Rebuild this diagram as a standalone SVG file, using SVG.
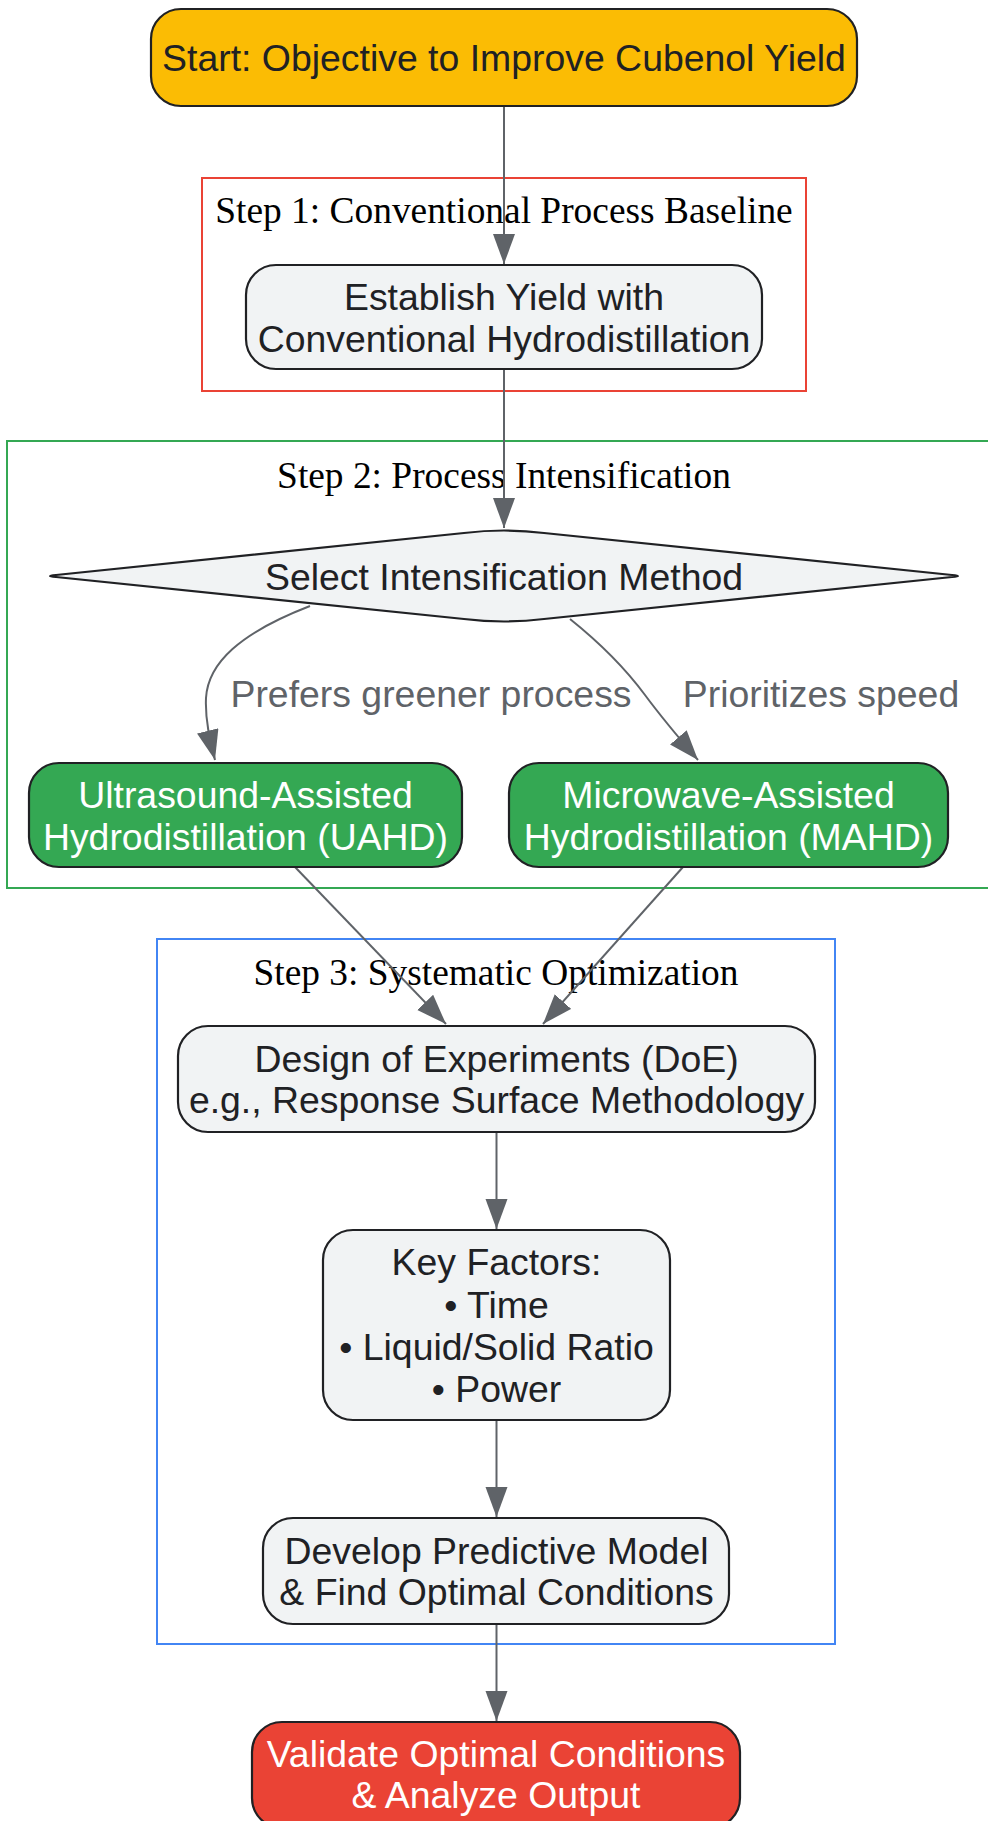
<svg xmlns="http://www.w3.org/2000/svg" width="988" height="1821" viewBox="0 0 988 1821">
<defs>
<style>
.n{fill:#f1f3f4;stroke:#202124;stroke-width:2.2}
.t{font-family:"Liberation Sans",Arial,sans-serif;font-size:37.4px;fill:#202124;text-anchor:middle}
.w{fill:#ffffff}
.ct{font-family:"Liberation Serif","Times New Roman",serif;font-size:37.4px;fill:#000;text-anchor:middle}
.el{font-family:"Liberation Sans",Arial,sans-serif;font-size:37.4px;fill:#5f6368;text-anchor:middle}
.e{fill:none;stroke:#5f6368;stroke-width:2}
.c{fill:none;stroke-width:2}
</style>
<marker id="ah" markerUnits="userSpaceOnUse" markerWidth="32" markerHeight="24" refX="30" refY="11" orient="auto">
<path d="M0,0 L30,11 L0,22 z" fill="#5f6368"/>
</marker>
</defs>
<rect width="988" height="1821" fill="#ffffff"/>
<g id="clusters">
<g id="step1"><rect class="c" x="202" y="178" width="604" height="213" stroke="#ea4335"/><text class="ct" x="504" y="223">Step 1: Conventional Process Baseline</text></g>
<g id="step2"><rect class="c" x="7" y="441" width="990" height="447" stroke="#34a853"/><text class="ct" x="504" y="488">Step 2: Process Intensification</text></g>
<g id="step3"><rect class="c" x="157" y="939" width="678" height="705" stroke="#4285f4"/><text class="ct" x="496" y="985">Step 3: Systematic Optimization</text></g>
</g>
<g id="edges">
<path class="e" d="M504,106 L504,264" marker-end="url(#ah)"/>
<path class="e" d="M504,369 L504,528" marker-end="url(#ah)"/>
<path class="e" d="M310,606 C240,633 208,663 206,698 C205,720 210,740 215,760" marker-end="url(#ah)"/>
<path class="e" d="M570,619 C600,643 625,668 645,695 C665,722 685,745 698,760" marker-end="url(#ah)"/>
<path class="e" d="M295,867 L446,1024" marker-end="url(#ah)"/>
<path class="e" d="M683,867 L543,1024" marker-end="url(#ah)"/>
<path class="e" d="M496.5,1132 L496.5,1229" marker-end="url(#ah)"/>
<path class="e" d="M496.5,1420 L496.5,1517" marker-end="url(#ah)"/>
<path class="e" d="M496.5,1624 L496.5,1721" marker-end="url(#ah)"/>
<text class="el" x="431" y="707">Prefers greener process</text>
<text class="el" x="821" y="707">Prioritizes speed</text>
</g>
<g id="start"><rect x="151" y="9" width="706" height="97" rx="30" fill="#fbbc04" stroke="#202124" stroke-width="2.2"/><text class="t" x="504" y="71">Start: Objective to Improve Cubenol Yield</text></g>
<g id="baseline"><rect class="n" x="246" y="265" width="516" height="104" rx="30"/><text class="t" x="504" y="310">Establish Yield with</text><text class="t" x="504" y="352">Conventional Hydrodistillation</text></g>
<g id="select"><path class="n" d="M464,533 Q504,528 544,533 L952,575 Q964,576 952,577 L544,619 Q504,624 464,619 L56,577 Q44,576 56,575 Z"/><text class="t" x="504" y="590">Select Intensification Method</text></g>
<g id="uahd"><rect x="29" y="763" width="433" height="104" rx="30" fill="#34a853" stroke="#202124" stroke-width="2.2"/><text class="t w" x="245.5" y="808">Ultrasound-Assisted</text><text class="t w" x="245.5" y="850">Hydrodistillation (UAHD)</text></g>
<g id="mahd"><rect x="509" y="763" width="439" height="104" rx="30" fill="#34a853" stroke="#202124" stroke-width="2.2"/><text class="t w" x="728.5" y="808">Microwave-Assisted</text><text class="t w" x="728.5" y="850">Hydrodistillation (MAHD)</text></g>
<g id="doe"><rect class="n" x="178" y="1026" width="637" height="106" rx="30"/><text class="t" x="496.5" y="1072">Design of Experiments (DoE)</text><text class="t" x="496.5" y="1113">e.g., Response Surface Methodology</text></g>
<g id="factors"><rect class="n" x="323" y="1230" width="347" height="190" rx="30"/><text class="t" x="496.5" y="1275">Key Factors:</text><text class="t" x="496.5" y="1318">• Time</text><text class="t" x="496.5" y="1360">• Liquid/Solid Ratio</text><text class="t" x="496.5" y="1402">• Power</text></g>
<g id="model"><rect class="n" x="263" y="1518" width="466" height="106" rx="30"/><text class="t" x="496.5" y="1564">Develop Predictive Model</text><text class="t" x="496.5" y="1605">&amp; Find Optimal Conditions</text></g>
<g id="validate"><rect x="252" y="1722" width="488" height="106" rx="30" fill="#ea4335" stroke="#202124" stroke-width="2.2"/><text class="t w" x="496" y="1767">Validate Optimal Conditions</text><text class="t w" x="496" y="1808">&amp; Analyze Output</text></g>
</svg>
